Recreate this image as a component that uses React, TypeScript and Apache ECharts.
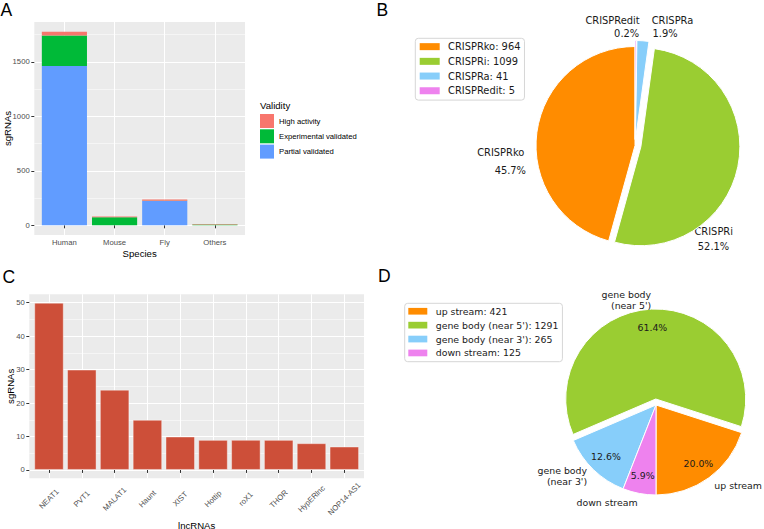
import React, { useEffect, useRef } from 'react';
import * as echarts from 'echarts';

// ---------- Data ----------
const species = ['Human', 'Mouse', 'Fly', 'Others'];
const partialValidated = [1463, 0, 223, 0];
const experimentalValidated = [281, 74, 3, 8];
const highActivity = [34, 6, 10, 5];
const speciesTicks = [0, 500, 1000, 1500];
const speciesMinorTicks = [250, 750, 1250, 1750];

const crisprTypes = ['CRISPRko', 'CRISPRi', 'CRISPRa', 'CRISPRedit'];
const crisprCounts = [964, 1099, 41, 5];
const crisprExplode = [false, true, true, true];

const lncRNAs = ['NEAT1', 'PVT1', 'MALAT1', 'Haunt', 'XIST', 'Hottip', 'roX1', 'THOR', 'HypERlnc', 'NOP14-AS1'];
const lncCounts = [50, 30, 24, 15, 10, 9, 9, 9, 8, 7];
const lncTicks = [0, 10, 20, 30, 40, 50];
const lncMinorTicks = [5, 15, 25, 35, 45];

const regions = ['up stream', "gene body (near 5')", "gene body (near 3')", 'down stream'];
const regionCounts = [421, 1291, 265, 125];
const regionExplode = [false, true, false, false];

// ---------- Styles ----------
const pieColors = ['#FF8C00', '#9ACD32', '#87CEFA', '#EE82EE'];
const validityColors = { partial: '#619CFF', experimental: '#00BA38', high: '#F8766D' };
const GG = '"Liberation Sans", Arial, Helvetica, sans-serif';
const MPL = '"DejaVu Sans", sans-serif';
const TXT = '#1a1a1a';

const panelA = { l: 34.3, t: 22, w: 210.7, h: 213 };
const panelC = { l: 29.3, t: 294.3, w: 334.7, h: 184 };

const sum = (a: number[]) => a.reduce((s, v) => s + v, 0);
const pct = (v: number, tot: number) => ((v / tot) * 100).toFixed(1) + '%';

function ggRange(maxV: number) {
  const span = maxV;
  return { min: -0.05 * span, max: maxV + 0.05 * span };
}
function inset(p: { w: number }, n: number) {
  return (p.w / (n + 0.2)) * 0.1;
}

function buildOption() {
  const totalsA = species.map((_, i) => partialValidated[i] + experimentalValidated[i] + highActivity[i]);
  const rA = ggRange(Math.max(...totalsA));
  const rC = ggRange(Math.max(...lncCounts));
  const inA = inset(panelA, species.length);
  const inC = inset(panelC, lncRNAs.length);

  const tick = { show: true, length: 3, lineStyle: { color: '#333333', width: 1 } };
  const tickLabel = { fontFamily: GG, fontSize: 7.7, color: '#4D4D4D' };
  const axisTitle = { fontFamily: GG, fontSize: 9.6, lineHeight: 10, color: '#000', verticalAlign: 'middle' as const };
  const major = { show: true, lineStyle: { color: '#FFFFFF', width: 1 } };
  const minor = { show: true, lineStyle: { color: '#FFFFFF', width: 0.5 } };

  const labelledY = (grid: number, r: { min: number; max: number }, ticks: number[], gap: number) => ({
    gridIndex: grid,
    type: 'value',
    min: r.min,
    max: r.max,
    position: 'left',
    axisLine: { show: false },
    axisTick: { ...tick, customValues: ticks },
    axisLabel: { ...tickLabel, margin: 4.6, customValues: ticks, formatter: (v: number) => String(v) },
    splitLine: major,
    name: 'sgRNAs',
    nameLocation: 'middle',
    nameRotate: 90,
    nameGap: gap,
    nameMoveOverlap: false,
    nameTextStyle: axisTitle,
  });
  const minorY = (grid: number, r: { min: number; max: number }, ticks: number[]) => ({
    gridIndex: grid,
    type: 'value',
    min: r.min,
    max: r.max,
    position: 'left',
    axisLine: { show: false },
    axisTick: { show: false, customValues: ticks },
    axisLabel: { show: false },
    splitLine: minor,
  });
  const hiddenY = (grid: number, r: { min: number; max: number }) => ({
    gridIndex: grid,
    type: 'value',
    min: r.min,
    max: r.max,
    show: false,
  });

  const pieCommon = {
    type: 'pie',
    clockwise: false,
    avoidLabelOverlap: false,
    silent: true,
    selectedMode: 'multiple',
    selectedOffset: 6,
    emphasis: { disabled: true },
    animation: false,
  };

  const totalB = sum(crisprCounts);
  const totalD = sum(regionCounts);

  const bText = (text: string, x: number, y: number, align: string) => ({
    type: 'text',
    x,
    y,
    silent: true,
    style: { text, fontFamily: MPL, fontSize: 9.9, fill: TXT, align, verticalAlign: 'middle' },
  });
  const letter = (text: string, x: number, y: number) => ({
    type: 'text',
    x,
    y,
    silent: true,
    style: { text, fontFamily: GG, fontSize: 17.5, lineHeight: 15, fill: '#000', align: 'left', verticalAlign: 'middle' },
  });

  return {
    animation: false,
    backgroundColor: '#FFFFFF',
    grid: [
      { left: panelA.l, top: panelA.t, width: panelA.w, height: panelA.h, show: true, backgroundColor: '#EBEBEB', borderWidth: 0, outerBoundsMode: 'none' },
      { left: panelA.l + inA, top: panelA.t, width: panelA.w - 2 * inA, height: panelA.h, show: false, outerBoundsMode: 'none' },
      { left: panelC.l, top: panelC.t, width: panelC.w, height: panelC.h, show: true, backgroundColor: '#EBEBEB', borderWidth: 0, outerBoundsMode: 'none' },
      { left: panelC.l + inC, top: panelC.t, width: panelC.w - 2 * inC, height: panelC.h, show: false, outerBoundsMode: 'none' },
    ],
    xAxis: [
      { gridIndex: 0, type: 'value', show: false, min: 0, max: 1 },
      {
        gridIndex: 1,
        type: 'category',
        data: species,
        boundaryGap: true,
        axisLine: { show: false },
        axisTick: { ...tick, alignWithLabel: true },
        axisLabel: { ...tickLabel, interval: 0, margin: 7.7, verticalAlign: 'middle' },
        splitLine: { ...major, alignWithLabel: true },
        name: 'Species',
        nameLocation: 'middle',
        nameGap: 18.3,
        nameMoveOverlap: false,
        nameTextStyle: axisTitle,
      },
      { gridIndex: 2, type: 'value', show: false, min: 0, max: 1 },
      {
        gridIndex: 3,
        type: 'category',
        data: lncRNAs,
        boundaryGap: true,
        axisLine: { show: false },
        axisTick: { ...tick, alignWithLabel: true },
        axisLabel: { ...tickLabel, interval: 0, rotate: 45, align: 'center', verticalAlign: 'middle', margin: 20.7 },
        splitLine: { ...major, alignWithLabel: true },
        name: 'lncRNAs',
        nameLocation: 'middle',
        nameGap: 46.7,
        nameMoveOverlap: false,
        nameTextStyle: axisTitle,
      },
    ],
    yAxis: [
      labelledY(0, rA, speciesTicks, 26.5),
      minorY(0, rA, speciesMinorTicks),
      hiddenY(1, rA),
      labelledY(2, rC, lncTicks, 18.8),
      minorY(2, rC, lncMinorTicks),
      hiddenY(3, rC),
    ],
    legend: [
      {
        data: ['High activity', 'Experimental validated', 'Partial validated'],
        orient: 'vertical',
        left: 260,
        top: 114,
        padding: 0,
        itemWidth: 14,
        itemHeight: 14,
        itemGap: 1.3,
        icon: 'rect',
        selectedMode: false,
        itemStyle: { borderWidth: 0 },
        textStyle: { fontFamily: GG, fontSize: 7.7, color: '#000' },
      },
      {
        data: crisprTypes,
        orient: 'vertical',
        left: 415.3,
        top: 38.3,
        padding: [1, 4, 2, 4.4],
        itemWidth: 20,
        itemHeight: 7,
        itemGap: 0,
        icon: 'rect',
        selectedMode: false,
        backgroundColor: '#FFFFFF',
        borderColor: '#D6D6D6',
        borderWidth: 1,
        borderRadius: 3,
        itemStyle: { borderWidth: 0 },
        formatter: (name: string) => `${name}: ${crisprCounts[crisprTypes.indexOf(name)]}`,
        textStyle: { fontFamily: MPL, fontSize: 9.9, lineHeight: 14.7, color: TXT, padding: [0, 0, 0, 3.3] },
      },
      {
        data: regions,
        orient: 'vertical',
        left: 404.7,
        top: 303.3,
        padding: [1, 4, 1.8, 3.6],
        itemWidth: 19,
        itemHeight: 6.7,
        itemGap: 0,
        icon: 'rect',
        selectedMode: false,
        backgroundColor: '#FFFFFF',
        borderColor: '#D6D6D6',
        borderWidth: 1,
        borderRadius: 3,
        itemStyle: { borderWidth: 0 },
        formatter: (name: string) => `${name}: ${regionCounts[regions.indexOf(name)]}`,
        textStyle: { fontFamily: MPL, fontSize: 9.4, lineHeight: 13.9, color: TXT, padding: [0, 0, 0, 3.4] },
      },
    ],
    series: [
      {
        name: 'Partial validated',
        type: 'bar',
        xAxisIndex: 1,
        yAxisIndex: 2,
        stack: 'validity',
        barWidth: '90%',
        data: partialValidated,
        itemStyle: { color: validityColors.partial },
        emphasis: { disabled: true },
        silent: true,
      },
      {
        name: 'Experimental validated',
        type: 'bar',
        xAxisIndex: 1,
        yAxisIndex: 2,
        stack: 'validity',
        barWidth: '90%',
        data: experimentalValidated,
        itemStyle: { color: validityColors.experimental },
        emphasis: { disabled: true },
        silent: true,
      },
      {
        name: 'High activity',
        type: 'bar',
        xAxisIndex: 1,
        yAxisIndex: 2,
        stack: 'validity',
        barWidth: '90%',
        data: highActivity,
        itemStyle: { color: validityColors.high },
        emphasis: { disabled: true },
        silent: true,
      },
      {
        name: 'sgRNAs',
        type: 'bar',
        xAxisIndex: 3,
        yAxisIndex: 5,
        barWidth: '90%',
        data: lncCounts,
        itemStyle: { color: '#CD4F39', borderColor: 'rgba(255,255,255,0.4)', borderWidth: 1 },
        emphasis: { disabled: true },
        silent: true,
      },
      {
        ...pieCommon,
        name: 'CRISPR',
        center: [635, 145.5],
        radius: [0, 99],
        startAngle: 90,
        label: { show: false },
        labelLine: { show: false },
        itemStyle: { borderColor: '#FFFFFF', borderWidth: 1 },
        select: { itemStyle: { borderColor: '#FFFFFF', borderWidth: 1 } },
        data: crisprTypes.map((n, i) => ({
          name: n,
          value: crisprCounts[i],
          selected: crisprExplode[i],
          itemStyle: { color: pieColors[i] },
        })),
      },
      {
        ...pieCommon,
        name: 'Region',
        center: [656, 405],
        radius: [0, 90],
        startAngle: 270,
        label: {
          show: true,
          position: 'outside',
          formatter: (p: any) => String(p.name).replace(' (', '\n('),
          fontFamily: MPL,
          fontSize: 9.4,
          lineHeight: 11,
          color: TXT,
          distanceToLabelLine: 0,
        },
        labelLine: { show: false, length: 9, length2: 0 },
        itemStyle: { borderColor: '#FFFFFF', borderWidth: 1 },
        select: { itemStyle: { borderColor: '#FFFFFF', borderWidth: 1 } },
        data: regions.map((n, i) => ({
          name: n,
          value: regionCounts[i],
          selected: regionExplode[i],
          itemStyle: { color: pieColors[i] },
        })),
      },
      {
        ...pieCommon,
        name: 'RegionPct',
        center: [656, 405],
        radius: [48, 90],
        startAngle: 270,
        label: {
          show: true,
          position: 'inside',
          formatter: (p: any) => pct(p.value, totalD),
          fontFamily: MPL,
          fontSize: 9.4,
          color: TXT,
        },
        labelLine: { show: false },
        itemStyle: { color: 'rgba(0,0,0,0)', borderWidth: 0 },
        select: { itemStyle: { color: 'rgba(0,0,0,0)', borderWidth: 0 } },
        data: regions.map((n, i) => ({
          name: n,
          value: regionCounts[i],
          selected: regionExplode[i],
          itemStyle: { color: 'rgba(0,0,0,0)' },
        })),
      },
    ],
    graphic: [
      letter('A', 0.5, 9.8),
      letter('B', 376.5, 9.8),
      letter('C', 2.5, 277),
      letter('D', 378, 276),
      {
        type: 'text',
        x: 260,
        y: 105,
        silent: true,
        style: { text: 'Validity', fontFamily: GG, fontSize: 9.6, fill: '#000', align: 'left', verticalAlign: 'middle' },
      },
      bText(crisprTypes[3], 639.7, 20, 'right'),
      bText(pct(crisprCounts[3], totalB), 639.2, 33.3, 'right'),
      bText(crisprTypes[2], 651.7, 20, 'left'),
      bText(pct(crisprCounts[2], totalB), 652.5, 33.3, 'left'),
      bText(crisprTypes[0], 524.3, 152.3, 'right'),
      bText(pct(crisprCounts[0], totalB), 526, 170, 'right'),
      bText(crisprTypes[1], 713.7, 231.7, 'center'),
      bText(pct(crisprCounts[1], totalB), 713.5, 246, 'center'),
    ],
  };
}

export default function App() {
  const ref = useRef<HTMLDivElement>(null);
  useEffect(() => {
    if (!ref.current) return;
    const chart = echarts.init(ref.current, null, { renderer: 'svg', width: 764, height: 529 });
    chart.setOption(buildOption() as any);
    return () => chart.dispose();
  }, []);
  return (
    <div
      ref={ref}
      style={{ position: 'absolute', left: 0, top: 0, width: 764, height: 529, background: '#FFFFFF' }}
    />
  );
}
